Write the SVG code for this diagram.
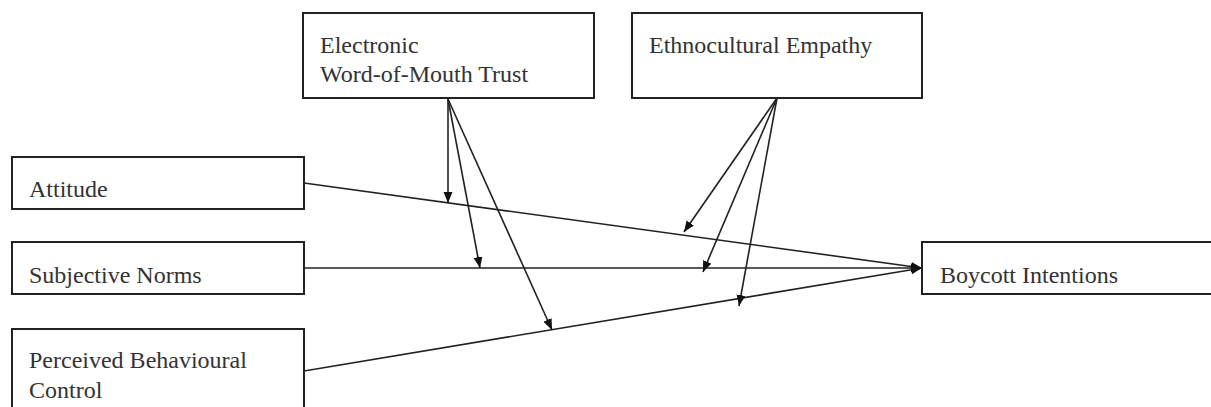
<svg xmlns="http://www.w3.org/2000/svg" width="1211" height="407" viewBox="0 0 1211 407">
<style>
.box{fill:#fff;stroke:#222;stroke-width:2}
.lbl{font-family:"Liberation Serif","Times New Roman",serif;font-size:24px;fill:#333}
.con{stroke:#222;stroke-width:1.6;fill:none;marker-end:url(#ah)}
</style>
<defs>
<marker id="ah" markerUnits="userSpaceOnUse" markerWidth="12" markerHeight="10" refX="11" refY="4.5" orient="auto">
<path d="M0,0 L11,4.5 L0,9 Z" fill="#111"/>
</marker>
</defs>
<rect width="1211" height="407" fill="#fff"/>
<g id="connectors">
<line class="con" x1="304" y1="183" x2="922" y2="268"/>
<line class="con" x1="304" y1="268" x2="922" y2="268"/>
<line class="con" x1="304" y1="371" x2="922" y2="268"/>
<line class="con" x1="448" y1="99" x2="448" y2="203"/>
<line class="con" x1="448" y1="99" x2="480" y2="268"/>
<line class="con" x1="448" y1="99" x2="552" y2="330"/>
<line class="con" x1="777" y1="98" x2="684" y2="232"/>
<line class="con" x1="777" y1="98" x2="703" y2="272"/>
<line class="con" x1="777" y1="98" x2="739" y2="306"/>
</g>
<g id="ewom">
<rect class="box" x="303" y="13" width="291" height="85"/>
<text class="lbl" x="320" y="53">Electronic</text>
<text class="lbl" x="320" y="82">Word-of-Mouth Trust</text>
</g>
<g id="empathy">
<rect class="box" x="632" y="13" width="290" height="85"/>
<text class="lbl" x="649" y="53">Ethnocultural Empathy</text>
</g>
<g id="attitude">
<rect class="box" x="12" y="157" width="292" height="52"/>
<text class="lbl" x="29" y="197">Attitude</text>
</g>
<g id="norms">
<rect class="box" x="12" y="242" width="292" height="52"/>
<text class="lbl" x="29" y="283">Subjective Norms</text>
</g>
<g id="pbc">
<rect class="box" x="12" y="329" width="292" height="100"/>
<text class="lbl" x="29" y="368">Perceived Behavioural</text>
<text class="lbl" x="29" y="398">Control</text>
</g>
<g id="boycott">
<rect class="box" x="922" y="242" width="300" height="52"/>
<text class="lbl" x="940" y="283">Boycott Intentions</text>
</g>
</svg>
